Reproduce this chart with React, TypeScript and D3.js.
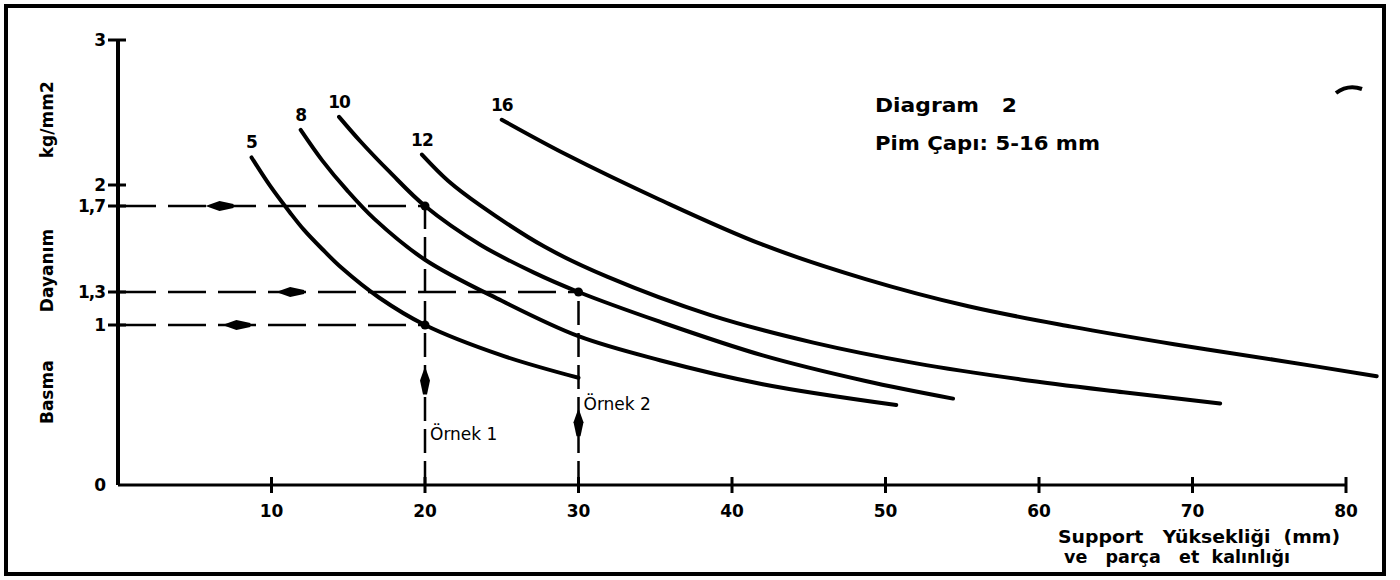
import React, { useRef, useEffect } from "react";
import * as d3 from "d3";

// pin diameters (mm), one curve each
const PIN_SIZES = ["5", "8", "10", "12", "16"];

// support height (mm) / compressive strength (kg/mm2)
const PIN_5_X = [8.7, 9.9, 11.2, 12.1, 13.3, 14.6, 17.0, 20.0, 25.0, 30.0];
const PIN_5_Y = [2.19, 1.99, 1.67, 1.59, 1.5, 1.41, 1.25, 1.0, 0.81, 0.67];
const PIN_8_X = [11.9, 13.3, 14.9, 16.7, 20.0, 25.0, 30.0, 35.3, 42.0, 50.7];
const PIN_8_Y = [2.38, 2.17, 1.93, 1.64, 1.45, 1.22, 0.93, 0.78, 0.63, 0.5];
const PIN_10_X = [14.4, 15.8, 17.7, 20.0, 23.6, 27.1, 30.0, 35.3, 42.0, 48.7, 54.4];
const PIN_10_Y = [2.47, 2.3, 2.09, 1.7, 1.52, 1.39, 1.3, 1.03, 0.81, 0.65, 0.54];
const PIN_12_X = [19.8, 21.5, 23.6, 27.8, 31.9, 38.6, 45.3, 52.0, 58.8, 65.5, 71.8];
const PIN_12_Y = [2.21, 2.03, 1.71, 1.51, 1.37, 1.09, 0.89, 0.76, 0.66, 0.58, 0.51];
const PIN_16_X = [25.0, 29.2, 35.3, 42.0, 48.7, 55.4, 62.1, 68.8, 75.5, 82.0];
const PIN_16_Y = [2.45, 2.21, 1.79, 1.52, 1.36, 1.17, 0.99, 0.88, 0.78, 0.68];

const X_TICKS = [10, 20, 30, 40, 50, 60, 70, 80];
const Y_TICKS = [0, 1, 1.3, 1.7, 2, 3];
const Y_TICK_LABELS = ["0", "1", "1,3", "1,7", "2", "3"];

// worked examples: read strength at a given height
const EXAMPLE_X = [20, 20, 30];
const EXAMPLE_Y = [1.7, 1.0, 1.3];
const EXAMPLE_ARROW_X = [5.7, 6.8, 10.3];
const EXAMPLE_NAMES = ["Örnek 1", "Örnek 2"];
const EXAMPLE_NAME_X = [20, 30];
const EXAMPLE_NAME_Y = [0.28, 0.47];
const EXAMPLE_UP_ARROW_Y = [0.74, 0.48];

const NB = "\u00a0";

export default function App() {
  const ref = useRef<SVGSVGElement>(null);

  useEffect(() => {
    const svg = d3.select(ref.current);
    svg.selectAll("*").remove();

    const width = 1400;
    const height = 580;
    const font = "'DejaVu Sans', 'Liberation Sans', sans-serif";

    const x = d3.scaleLinear().domain([0, 80]).range([118, 1346]);
    // hand drawn axis: tick spacing is uneven, so map each tick to where it sits
    const y = d3
      .scaleLinear()
      .domain(Y_TICKS)
      .range([485, 325, 292, 206, 185, 40]);

    svg.append("rect").attr("width", width).attr("height", height).attr("fill", "#fff");

    // frame
    svg
      .append("rect")
      .attr("x", 6)
      .attr("y", 6)
      .attr("width", 1378)
      .attr("height", 568)
      .attr("fill", "none")
      .attr("stroke", "#000")
      .attr("stroke-width", 4);
    // stray pen mark in the corner
    svg
      .append("path")
      .attr("d", "M1336,93 Q1348,84 1362,89")
      .attr("fill", "none")
      .attr("stroke", "#000")
      .attr("stroke-width", 4);

    // axes
    svg
      .append("line")
      .attr("x1", x(0))
      .attr("x2", x(0))
      .attr("y1", y(3))
      .attr("y2", y(0))
      .attr("stroke", "#000")
      .attr("stroke-width", 4);
    svg
      .append("line")
      .attr("x1", x(0))
      .attr("x2", x(80))
      .attr("y1", y(0))
      .attr("y2", y(0))
      .attr("stroke", "#000")
      .attr("stroke-width", 3);

    // x ticks
    const xt = svg.append("g");
    xt.selectAll("line")
      .data(X_TICKS)
      .join("line")
      .attr("x1", (d) => x(d))
      .attr("x2", (d) => x(d))
      .attr("y1", y(0) - 8)
      .attr("y2", y(0) + 8)
      .attr("stroke", "#000")
      .attr("stroke-width", 3);
    xt.selectAll("text")
      .data(X_TICKS)
      .join("text")
      .attr("x", (d) => x(d))
      .attr("y", y(0) + 32)
      .attr("text-anchor", "middle")
      .style("font-family", font)
      .style("font-weight", "bold")
      .style("font-size", "17px")
      .text((d) => d);

    // y ticks
    const yt = svg.append("g");
    yt.selectAll("line")
      .data(Y_TICKS.filter((d) => d > 0))
      .join("line")
      .attr("x1", x(0) - 10)
      .attr("x2", x(0) + 8)
      .attr("y1", (d) => y(d))
      .attr("y2", (d) => y(d))
      .attr("stroke", "#000")
      .attr("stroke-width", 3);
    yt.selectAll("text")
      .data(Y_TICKS)
      .join("text")
      .attr("x", x(0) - 13)
      .attr("y", (d) => y(d))
      .attr("dy", "0.35em")
      .attr("text-anchor", "end")
      .style("font-family", font)
      .style("font-weight", "bold")
      .style("font-size", "17px")
      .style("letter-spacing", "-1px")
      .text((d, i) => Y_TICK_LABELS[i]);

    // y axis title, three words spread along the axis
    const yTitles = [
      { t: "Basma", v: 0.58 },
      { t: "Dayanım", v: 1.4 },
      { t: "kg/mm2", v: 2.45 },
    ];
    svg
      .append("g")
      .selectAll("text")
      .data(yTitles)
      .join("text")
      .attr("transform", (d) => `translate(53,${y(d.v)}) rotate(-90)`)
      .attr("text-anchor", "middle")
      .style("font-family", font)
      .style("font-weight", "bold")
      .style("font-size", "17px")
      .text((d) => d.t);

    // guide lines for the examples
    const guides = svg.append("g");
    EXAMPLE_Y.forEach((v, i) => {
      guides
        .append("line")
        .attr("x1", x(0))
        .attr("x2", x(EXAMPLE_X[i]))
        .attr("y1", y(v))
        .attr("y2", y(v))
        .attr("stroke", "#000")
        .attr("stroke-width", 2.5)
        .attr("stroke-dasharray", "38,12");
      const ax = x(EXAMPLE_ARROW_X[i]);
      guides
        .append("path")
        .attr(
          "d",
          `M${ax},${y(v)} L${ax + 14},${y(v) - 5} L${ax + 28},${y(v) - 2} L${ax + 28},${y(v) + 2} L${ax + 14},${y(v) + 5} Z`
        )
        .attr("fill", "#000");
    });
    [0, 2].forEach((i) => {
      guides
        .append("line")
        .attr("x1", x(EXAMPLE_X[i]))
        .attr("x2", x(EXAMPLE_X[i]))
        .attr("y1", y(0))
        .attr("y2", y(EXAMPLE_Y[i]))
        .attr("stroke", "#000")
        .attr("stroke-width", 2.5)
        .attr("stroke-dasharray", "24,8");
    });
    EXAMPLE_NAME_X.forEach((v, i) => {
      const ax = x(v);
      const ay = y(EXAMPLE_UP_ARROW_Y[i]);
      guides
        .append("path")
        .attr(
          "d",
          `M${ax},${ay} L${ax - 5},${ay + 14} L${ax - 2},${ay + 28} L${ax + 2},${ay + 28} L${ax + 5},${ay + 14} Z`
        )
        .attr("fill", "#000");
      guides
        .append("text")
        .attr("x", ax + 5)
        .attr("y", y(EXAMPLE_NAME_Y[i]))
        .style("font-family", font)
        .style("font-size", "17px")
        .text(EXAMPLE_NAMES[i]);
    });

    // intersection dots
    guides
      .selectAll("circle")
      .data(EXAMPLE_Y)
      .join("circle")
      .attr("cx", (d, i) => x(EXAMPLE_X[i]))
      .attr("cy", (d) => y(d))
      .attr("r", 4.5)
      .attr("fill", "#000");

    // curves
    const series = [
      { name: PIN_SIZES[0], xs: PIN_5_X, ys: PIN_5_Y },
      { name: PIN_SIZES[1], xs: PIN_8_X, ys: PIN_8_Y },
      { name: PIN_SIZES[2], xs: PIN_10_X, ys: PIN_10_Y },
      { name: PIN_SIZES[3], xs: PIN_12_X, ys: PIN_12_Y },
      { name: PIN_SIZES[4], xs: PIN_16_X, ys: PIN_16_Y },
    ];
    const line = d3
      .line<number[]>()
      .x((d) => d[0])
      .y((d) => d[1])
      .curve(d3.curveCatmullRom.alpha(0.5));

    const cg = svg.append("g");
    series.forEach((s) => {
      const pts = s.xs.map((v, i) => [x(v), y(s.ys[i])]);
      cg.append("path")
        .attr("d", line(pts))
        .attr("fill", "none")
        .attr("stroke", "#000")
        .attr("stroke-width", 4)
        .attr("stroke-linecap", "round");
      cg.append("text")
        .attr("x", x(s.xs[0]))
        .attr("y", y(s.ys[0]) - 9)
        .attr("text-anchor", "middle")
        .style("font-family", font)
        .style("font-weight", "bold")
        .style("font-size", "17px")
        .style("letter-spacing", "-1px")
        .text(s.name);
    });

    // title block
    const heading = (txt: string, tx: number, ty: number, len: number, size: number) =>
      svg
        .append("text")
        .attr("x", tx)
        .attr("y", ty)
        .attr("textLength", len)
        .attr("lengthAdjust", "spacingAndGlyphs")
        .style("font-family", font)
        .style("font-weight", "bold")
        .style("font-size", `${size}px`)
        .text(txt);

    heading(`Diagram${NB}${NB}${NB}2`, 875, 112, 142, 19);
    heading("Pim Çapı: 5-16 mm", 875, 150, 225, 19);

    // x axis title
    heading(`Support${NB}${NB}${NB}Yüksekliği${NB}${NB}(mm)`, 1058, 543, 282, 17);
    heading(`ve${NB}${NB}${NB}parça${NB}${NB}${NB}et${NB}${NB}kalınlığı`, 1064, 563, 226, 17);
  }, []);

  return (
    <svg
      ref={ref}
      width={1400}
      height={580}
      style={{ position: "absolute", left: 0, top: 0, display: "block" }}
    ></svg>
  );
}
